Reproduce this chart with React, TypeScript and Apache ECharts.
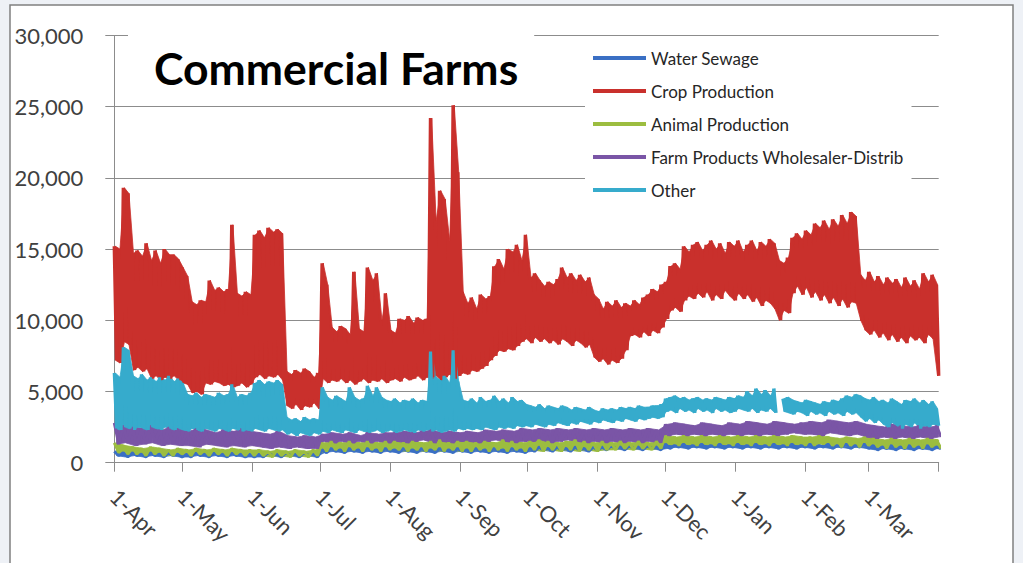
import React, { useEffect, useRef } from "react";
import * as echarts from "echarts";

// Day numbers (days after 1-Apr) where each month starts, and the tick labels
const monthStartDays = [0, 30, 61, 91, 122, 153, 183, 214, 244, 275, 306, 334, 365];
const monthLabels = ["1-Apr", "1-May", "1-Jun", "1-Jul", "1-Aug", "1-Sep", "1-Oct", "1-Nov", "1-Dec", "1-Jan", "1-Feb", "1-Mar"];

const seriesNames = ["Water Sewage", "Crop Production", "Animal Production", "Farm Products Wholesaler-Distrib", "Other"];

// Crop Production: daily peak / trough read every 2 days
const cropHigh = [
  15200, 15000, 19300, 18900, 14700, 14900, 14500, 15400, 14200, 14900,
  14000, 15000, 14600, 14600, 14300, 13700, 13100, 11300, 11100, 11400,
  11300, 12800, 12100, 12300, 12000, 12200, 16700, 11900, 11700, 12000,
  11800, 16000, 16300, 15800, 16500, 16200, 16400, 16100, 6400, 6200,
  6500, 6300, 6600, 6400, 6000, 6300, 14000, 12500, 9500, 9200,
  9600, 9400, 9000, 13400, 9400, 9200, 13700, 12800, 13300, 10000,
  11900, 9300, 9100, 10100, 10000, 10300, 9800, 10200, 10000, 10100,
  24200, 17000, 19100, 18500, 15600, 25100, 20400, 12000, 11200, 11600,
  10800, 11800, 11500, 11700, 13800, 14300, 13600, 15000, 14800, 15300,
  14200, 16000, 13000, 13300, 12800, 12400, 12700, 12500, 12900, 13700,
  13000, 13300, 12800, 13200, 12700, 13000, 11800, 11500, 10800, 11300,
  11000, 11400, 10900, 11200, 11000, 11400, 11100, 11600, 11800, 12200,
  12000, 12500, 12700, 13800, 14000, 13600, 15200, 14800, 15300, 15500,
  14900, 15300, 15600, 15000, 15400, 14700, 15500, 15200, 15600, 14800,
  15300, 15600, 14900, 15500, 15200, 15700, 15400, 14200, 14000, 14400,
  15800, 16100, 15700, 16300, 16000, 16800, 16500, 17000, 16400, 17100,
  16600, 17400, 16800, 17600, 17300, 13200, 12800, 13400, 12700, 13100,
  12500, 13000, 12600, 12900, 12300, 13000, 12400, 12800, 12200, 13300, 12700, 13200, 12500,
];
const cropLow = [
  7200, 7000, 8500, 8300, 6500, 6700, 6400, 6600, 5900, 6100,
  5800, 6000, 5900, 6100, 5800, 5600, 5500, 4900, 5000, 4800,
  5600, 5500, 5700, 5600, 5400, 5500, 5300, 5400, 5600, 5300,
  5500, 6000, 6200, 5900, 6100, 6000, 6200, 5800, 4000, 3800,
  4100, 3700, 4000, 3900, 4200, 3800, 5900, 5600, 5800, 5700,
  5900, 5600, 5800, 5500, 5700, 5900, 5600, 5800, 5700, 5900,
  5600, 5800, 5900, 5700, 6000, 5800, 5900, 6100, 5800, 6000,
  5900, 6100, 5800, 6000, 6200, 5900, 6100, 6300, 6200, 6500,
  6400, 6600, 6800, 7200, 7500, 7900, 7800, 8000, 7900, 8200,
  8500, 8700, 8400, 8800, 8500, 8700, 8400, 8600, 8300, 8700,
  8500, 8200, 8600, 8400, 8100, 8300, 7400, 7100, 7300, 6900,
  7200, 7000, 7300, 7900, 8900, 9000, 8800, 9200, 8900, 9300,
  9100, 9500, 10100, 10700, 10900, 10600, 11400, 11700, 11500, 11900,
  11600, 12000, 11400, 11800, 11500, 12100, 11700, 11400, 11900, 11500,
  11800, 11300, 11600, 11000, 11400, 11200, 10800, 10000, 10700, 10500,
  11900, 12400, 11800, 12300, 11600, 12000, 11400, 11800, 11200, 11600,
  11000, 11500, 10900, 11300, 11200, 10000, 9300, 9000, 9300, 8800,
  9100, 8600, 9000, 8500, 8800, 8400, 8900, 8600, 8800, 8400, 9000, 8700, 6100,
];

// Other: read every 2 days (null = no data)
const otherHigh = [
  6300, 6000, 8100, 7900, 6100, 5900, 6200, 5800, 6000, 5700,
  6000, 5800, 6100, 5700, 5900, 5600, 4800, 4700, 4900, 4600,
  4800, 4700, 4600, 4900, 4700, 4800, 5500, 4600, 4800, 4700,
  4900, 5600, 5800, 5500, 5700, 5600, 5800, 5500, 3200, 3000,
  3100, 2900, 3200, 3000, 3100, 3000, 5300, 4600, 4400, 4700,
  4500, 4300, 5300, 4600, 4400, 4500, 5400, 4700, 5300, 4600,
  4400, 4300, 4500, 4200, 4400, 4300, 4500, 4200, 4400, 4300,
  7800, 6000, 5800, 6100, 5600, 7900, 5700, 4400, 4300, 4500,
  4200, 4600, 4300, 4400, 4700, 4300, 4500, 4200, 4600, 4300,
  4400, 4100, 4000, 3900, 4100, 3800, 4000, 3900, 3800, 4000,
  3900, 3700, 3900, 3800, 3700, 3900, 3700, 3600, 3800, 3700,
  3800, 3700, 3900, 3800, 3900, 3800, 4000, 3900, 3900, 4000,
  4000, 4100, 4500, 4600, 4700, 4500, 4600, 4400, 4500, 4600,
  4400, 4500, 4400, 4600, 4500, 4400, 4600, 4500, 4700, 4600,
  5000, 4700, 5200, 4800, 5100, 4700, 5200, null, 4500, 4600,
  4400, 4300, 4200, 4400, 4300, 4200, 4100, 4300, 4200, 4400,
  4300, 4500, 4700, 4600, 4800, 4700, 4500, 4400, 4600, 4300,
  4400, 4200, 4500, 4300, 4100, 4400, 4300, 4500, 4200, 4400, 4100, 4300, 3800,
];
const otherLow = [
  2400, 2300, 2500, 2400, 2300, 2500, 2400, 2300, 2500, 2400,
  2300, 2500, 2400, 2300, 2400, 2300, 2200, 2400, 2300, 2200,
  2400, 2300, 2200, 2400, 2300, 2200, 2400, 2300, 2200, 2300,
  2200, 2400, 2300, 2200, 2400, 2300, 2200, 2300, 2000, 2100,
  1900, 2100, 2000, 1900, 2100, 2000, 2200, 2100, 2300, 2200,
  2100, 2300, 2200, 2100, 2300, 2200, 2100, 2200, 2300, 2100,
  2200, 2300, 2100, 2200, 2300, 2200, 2100, 2300, 2200, 2300,
  2200, 2300, 2100, 2200, 2300, 2200, 2400, 2300, 2400, 2300,
  2400, 2300, 2500, 2400, 2300, 2500, 2400, 2500, 2400, 2600,
  2500, 2600, 2500, 2700, 2600, 2500, 2700, 2600, 2800, 2700,
  2600, 2800, 2700, 2900, 2800, 2700, 2900, 2800, 3000, 2900,
  2800, 3000, 2900, 3100, 3000, 2900, 3100, 3000, 3100, 3200,
  3100, 3200, 3600, 3700, 3500, 3800, 3600, 3700, 3500, 3800,
  3600, 3700, 3500, 3800, 3600, 3700, 3500, 3600, 3800, 3700,
  3600, 3800, 3500, 3700, 3600, 3800, 3500, null, 3600, 3500,
  3400, 3600, 3500, 3300, 3600, 3400, 3500, 3300, 3600, 3400,
  3500, 3300, 3600, 3400, 3500, 3200, 2900, 3100, 2800, 3000,
  2700, 2500, 2800, 2600, 2400, 2700, 2500, 2800, 2400, 2600, 2500, 2700, 2600,
];

// Farm Products Wholesaler-Distrib: read every 4 days
const farmHigh = [
  2800, 2600, 2500, 2400, 2600, 2300, 2500, 2400,
  2200, 2400, 2300, 2100, 2300, 2200, 2400, 2200,
  2100, 2000, 2200, 1900, 1800, 1900, 1800,
  2000, 2100, 2000, 2100, 1900, 2100, 2000, 2100,
  2100, 2200, 2100, 2200, 2300, 2100, 2200, 2100,
  2200, 2100, 2300, 2200, 2300, 2200, 2400,
  2300, 2400, 2300, 2400, 2300, 2400, 2300, 2400,
  2300, 2400, 2300, 2400, 2300, 2400, 2300,
  2700, 2800, 2700, 2600, 2800, 2700, 2600, 2800,
  2700, 2900, 2800, 2700, 2900, 2800, 2700, 2800,
  2900, 2800, 3000, 2900, 2800, 2900, 2700,
  2600, 2500, 2700, 2600, 2500, 2600, 2500, 2600,
];
const farmLow = [
  1300, 1400, 1200, 1300, 1400, 1200, 1300, 1200,
  1200, 1100, 1300, 1200, 1100, 1200, 1100, 1200,
  1100, 1000, 1100, 1000, 1100, 1000, 1000,
  1500, 1400, 1500, 1400, 1500, 1400, 1500, 1400,
  1500, 1400, 1500, 1600, 1400, 1500, 1400, 1500,
  1500, 1400, 1500, 1600, 1500, 1400, 1500,
  1500, 1600, 1400, 1500, 1600, 1500, 1400, 1500,
  1400, 1500, 1400, 1500, 1400, 1500, 1400,
  1900, 2000, 1900, 2000, 1900, 2000, 1900, 2000,
  1900, 2000, 1900, 2000, 1900, 2000, 2100, 2000,
  2000, 1900, 2100, 2000, 1900, 2000, 1800,
  1700, 1800, 1700, 1800, 1700, 1800, 1700, 1800,
];

// Animal Production: read every 4 days
const animalHigh = [
  1400, 1200, 1100, 1000, 1100, 1000, 900, 1000,
  900, 1000, 900, 1000, 900, 1000, 900, 900,
  900, 800, 900, 800, 900, 800, 900,
  1400, 1500, 1400, 1500, 1400, 1500, 1400, 1500,
  1500, 1400, 1500, 1400, 1500, 1600, 1400, 1500,
  1500, 1400, 1500, 1400, 1600, 1500, 1400,
  1500, 1600, 1500, 1400, 1500, 1600, 1500, 1400,
  1500, 1400, 1500, 1400, 1500, 1400, 1500,
  1900, 1800, 1900, 1800, 1900, 1800, 1900, 1800,
  1900, 1800, 1900, 1800, 1900, 1800, 1900, 1800,
  1800, 1900, 1800, 1700, 1800, 1700, 1800,
  1700, 1600, 1700, 1600, 1700, 1600, 1700, 1600,
];
const animalLow = [
  700, 600, 600, 500, 600, 500, 500, 600,
  500, 600, 500, 600, 500, 600, 500, 500,
  500, 400, 500, 400, 500, 400, 500,
  800, 900, 800, 900, 800, 900, 800, 900,
  900, 800, 900, 800, 900, 800, 900, 800,
  800, 900, 800, 900, 800, 900, 800,
  900, 800, 900, 800, 900, 800, 900, 800,
  900, 900, 1000, 900, 1000, 900, 1000,
  1300, 1200, 1300, 1200, 1300, 1200, 1300, 1200,
  1300, 1200, 1300, 1200, 1300, 1200, 1300, 1200,
  1200, 1300, 1200, 1100, 1200, 1100, 1200,
  1100, 1000, 1100, 1000, 1100, 1000, 1100, 1000,
];

// Water Sewage: read every 4 days
const waterHigh = [
  800, 700, 700, 600, 700, 600, 700, 600,
  600, 700, 600, 700, 600, 700, 600, 600,
  600, 700, 600, 700, 600, 700, 600,
  900, 1000, 900, 1000, 900, 1000, 900, 1000,
  900, 1000, 900, 1000, 900, 1000, 900, 1000,
  900, 1000, 900, 1000, 900, 1000, 900,
  1000, 1100, 1000, 1100, 1000, 1100, 1000, 1100,
  1100, 1200, 1100, 1200, 1100, 1200, 1100,
  1300, 1200, 1300, 1200, 1300, 1200, 1300, 1200,
  1300, 1200, 1300, 1200, 1300, 1200, 1300, 1200,
  1300, 1200, 1300, 1200, 1300, 1200, 1300,
  1200, 1100, 1200, 1100, 1200, 1100, 1200, 1100,
];
const waterLow = [
  500, 400, 500, 400, 500, 400, 500, 400,
  400, 500, 400, 500, 400, 500, 400, 400,
  400, 500, 400, 500, 400, 500, 400,
  700, 800, 700, 800, 700, 800, 700, 800,
  700, 800, 700, 800, 700, 800, 700, 800,
  700, 800, 700, 800, 700, 800, 700,
  800, 900, 800, 900, 800, 900, 800, 900,
  900, 1000, 900, 1000, 900, 1000, 900,
  1000, 1100, 1000, 1100, 1000, 1100, 1000, 1100,
  1000, 1100, 1000, 1100, 1000, 1100, 1000, 1100,
  1000, 1100, 1000, 1100, 1000, 1100, 1000,
  900, 1000, 900, 1000, 900, 1000, 900, 1000,
];

const colors = ["#3a6fc4", "#c9302c", "#9cbd40", "#7a55a6", "#36abcc"];

type Arr = (number | null)[];

// peak at day i*step, trough half a step later
function zigzag(highs: Arr, lows: Arr, step: number) {
  const pts: any[] = [];
  highs.forEach((h, i) => {
    const x = i * step;
    pts.push([x, h == null ? "-" : h]);
    pts.push([x + step / 2, lows[i] == null ? "-" : lows[i]]);
  });
  return pts;
}
// band pieces between consecutive readings: [x, high, low, xNext, highNext, lowNext]
function bandPieces(highs: Arr, lows: Arr, step: number) {
  const out: number[][] = [];
  for (let i = 0; i < highs.length - 1; i++) {
    const h0 = highs[i], l0 = lows[i], h1 = highs[i + 1], l1 = lows[i + 1];
    if (h0 == null || l0 == null || h1 == null || l1 == null) continue;
    out.push([i * step + step / 4, h0, l0, (i + 1) * step + step / 4, h1, l1]);
  }
  return out;
}

const withCommas = (v: number) => String(v).replace(/\B(?=(\d{3})+(?!\d))/g, ",");

export default function App() {
  const ref = useRef<HTMLDivElement>(null);
  useEffect(() => {
    const chart = echarts.init(ref.current!, null, { renderer: "svg" });
    const sets: [Arr, Arr, number][] = [
      [waterHigh, waterLow, 4],
      [cropHigh, cropLow, 2],
      [animalHigh, animalLow, 4],
      [farmHigh, farmLow, 4],
      [otherHigh, otherLow, 2],
    ];
    const widths = [3, 3.4, 3, 3, 3.2];
    const series: any[] = [];
    seriesNames.forEach((name, i) => {
      const [hi, lo, step] = sets[i];
      const col = colors[i];
      series.push({
        name: name + " band",
        type: "custom",
        silent: true,
        clip: true,
        data: bandPieces(hi, lo, step),
        encode: { x: [0, 3], y: [1, 2, 4, 5] },
        renderItem: (params: any, api: any) => {
          const p1 = api.coord([api.value(0), api.value(1)]);
          const p2 = api.coord([api.value(3), api.value(4)]);
          const p3 = api.coord([api.value(3), api.value(5)]);
          const p4 = api.coord([api.value(0), api.value(2)]);
          return {
            type: "polygon",
            shape: { points: [p1, p2, p3, p4] },
            style: { fill: col, stroke: col, lineWidth: 0.8 },
          };
        },
      });
      series.push({
        name,
        type: "line",
        data: zigzag(hi, lo, step),
        showSymbol: false,
        symbol: "none",
        connectNulls: false,
        lineStyle: { width: widths[i], color: col, join: "bevel" },
        itemStyle: { color: col },
      });
    });
    chart.setOption({
      animation: false,
      backgroundColor: "#eef1f6",
      color: colors,
      graphic: [
        {
          type: "rect",
          z: -10,
          silent: true,
          shape: { x: 10, y: 5, width: 1003, height: 620 },
          style: { fill: "#ffffff", stroke: "#808080", lineWidth: 1.5 },
        },
      ],
      title: {
        text: "Commercial Farms",
        left: 128,
        top: 32,
        backgroundColor: "#ffffff",
        padding: [13, 16, 10, 26],
        textStyle: { fontFamily: "Lato", fontWeight: "bold", fontSize: 44.5, color: "#000000" },
      },
      legend: {
        orient: "vertical",
        left: 585,
        top: 40,
        backgroundColor: "#ffffff",
        padding: [8, 8, 8, 8],
        itemWidth: 53,
        itemHeight: 4,
        itemGap: 13,
        icon: "rect",
        selectedMode: false,
        data: seriesNames,
        textStyle: { fontFamily: "Lato", fontSize: 17, color: "#262626", lineHeight: 20 },
      },
      grid: { left: 114.3, right: 84.3, top: 35.5, bottom: 100.3, containLabel: false },
      xAxis: {
        type: "value",
        min: 0,
        max: 365,
        axisLine: { show: true, lineStyle: { color: "#8c8c8c", width: 1 } },
        axisTick: { show: true, length: 9, customValues: monthStartDays, lineStyle: { color: "#8c8c8c" } },
        axisLabel: {
          customValues: monthStartDays.slice(0, 12),
          formatter: (v: number) => monthLabels[monthStartDays.indexOf(v)] ?? "",
          rotate: -45,
          margin: 30,
          fontFamily: "Lato",
          fontSize: 22,
          color: "#404040",
        },
        splitLine: { show: false },
      },
      yAxis: {
        type: "value",
        min: 0,
        max: 30000,
        interval: 5000,
        axisLine: { show: true, lineStyle: { color: "#8c8c8c", width: 1 } },
        axisTick: { show: true, length: 9, lineStyle: { color: "#8c8c8c" } },
        axisLabel: {
          formatter: (v: number) => withCommas(v),
          margin: 31,
          fontFamily: "Lato",
          fontSize: 22,
          color: "#404040",
        },
        splitLine: { show: true, lineStyle: { color: "#8c8c8c", width: 1 } },
      },
      series,
    });
    return () => chart.dispose();
  }, []);
  return <div ref={ref} style={{ position: "fixed", left: 0, top: 0, width: 1023, height: 563 }} />;
}
